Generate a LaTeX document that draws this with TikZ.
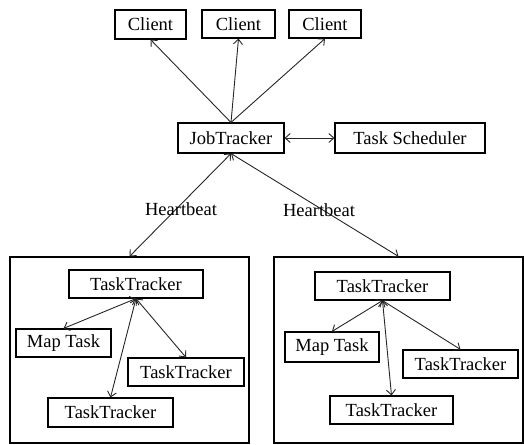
\documentclass[tikz,border=0pt]{standalone}
\usepackage{fontspec}
\setmainfont{Liberation Serif}
\usetikzlibrary{arrows.meta}
\begin{document}
\begin{tikzpicture}[x=1pt,y=-1pt,
  box/.style={draw, line width=1.1pt, inner sep=0pt, font=\fontsize{18.5}{20}\selectfont},
  group/.style={draw, line width=1.1pt, inner sep=0pt},
  lbl/.style={inner sep=0pt, font=\fontsize{18.5}{20}\selectfont},
  link/.style={line width=0.9pt, draw=black!85},
  tip/.style={-{Straight Barb[length=5pt,width=9pt]}},
  tips/.style={{Straight Barb[length=5pt,width=9pt]}-{Straight Barb[length=5pt,width=9pt]}}]
\useasboundingbox (0,0) rectangle (524,444);

% clients
\node[box, minimum width=71pt, minimum height=29pt] (c1) at (150.5,24.5) {Client};
\node[box, minimum width=73pt, minimum height=28pt] (c2) at (238.5,24) {Client};
\node[box, minimum width=72pt, minimum height=28pt] (c3) at (325,24) {Client};

% job tracker and scheduler
\node[box, minimum width=106pt, minimum height=30pt] (jt) at (231,138) {JobTracker};
\node[box, minimum width=150pt, minimum height=30pt] (ts) at (410,138) {Task Scheduler};

% worker groups
\node[group, minimum width=239pt, minimum height=186pt] (g1) at (129.5,350) {};
\node[group, minimum width=249pt, minimum height=186pt] (g2) at (398.5,350) {};

% left group contents
\node[box, minimum width=134pt, minimum height=28pt] (t1) at (136,284) {TaskTracker};
\node[box, minimum width=95pt, minimum height=28pt] (m1) at (63.5,343) {Map Task};
\node[box, minimum width=116pt, minimum height=28pt] (r1) at (186,372) {TaskTracker};
\node[box, minimum width=125pt, minimum height=29pt] (b1) at (110.5,412.5) {TaskTracker};

% right group contents
\node[box, minimum width=135pt, minimum height=28pt] (t2) at (382.5,286) {TaskTracker};
\node[box, minimum width=94pt, minimum height=30pt] (m2) at (332,347) {Map Task};
\node[box, minimum width=115pt, minimum height=28pt] (r2) at (460.5,364) {TaskTracker};
\node[box, minimum width=123pt, minimum height=28pt] (b2) at (391.5,410) {TaskTracker};

% connectors
\draw[link,tip] (jt.north) -- (c1.south);
\draw[link,tip] (jt.north) -- (c2.south);
\draw[link,tip] (jt.north) -- (c3.south);
\draw[link,tips] (jt.east) -- (ts.west);

\draw[link,tips] (jt.south) -- (g1.north);
\draw[link,tips] (jt.south) -- (g2.north);
\node[lbl] (hb1) at (181,209) {Heartbeat};
\node[lbl] (hb2) at (319,210) {Heartbeat};

\draw[link,tips] (t1.south) -- (m1.north);
\draw[link,tips] (t1.south) -- (r1.north);
\draw[link,tips] (t1.south) -- (b1.north);

\draw[link,tips] (t2.south) -- (m2.north);
\draw[link,tips] (t2.south) -- (r2.north);
\draw[link,tips] (t2.south) -- (b2.north);
\end{tikzpicture}
\end{document}
